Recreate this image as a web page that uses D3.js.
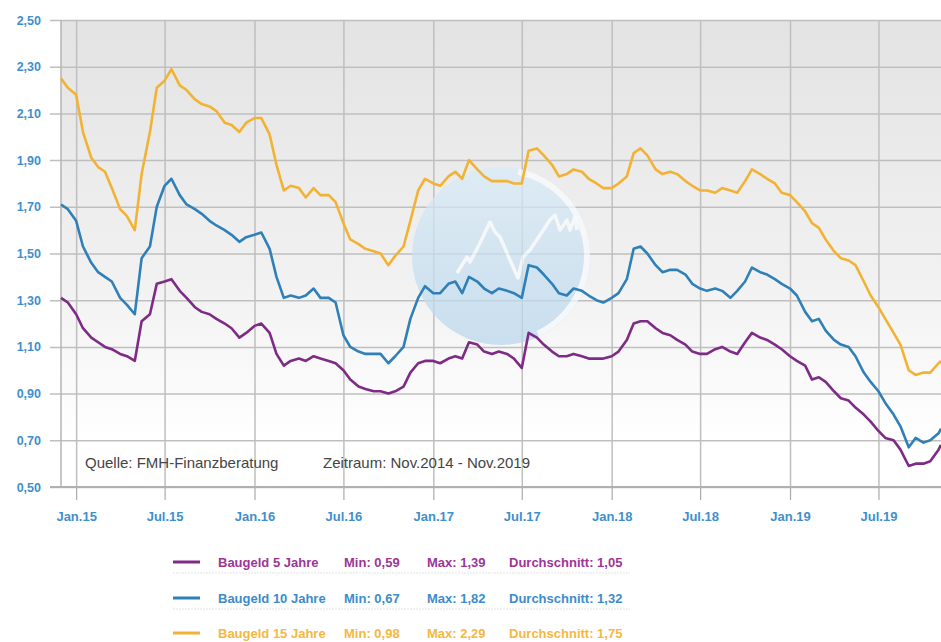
<!DOCTYPE html>
<html>
<head>
<meta charset="utf-8">
<script src="https://cdn.jsdelivr.net/npm/d3@7/dist/d3.min.js"></script>
<style>
  body { margin: 0; background: #fff; }
  svg { display: block; font-family: "Liberation Sans", Arial, sans-serif; }
</style>
</head>
<body>
<div id="chart-area"></div>
<script>
// half-monthly readings, Dec 2014 - Nov 2019
const dates = [
  "2014-12-01","2014-12-15",
  "2015-01-01","2015-01-15","2015-02-01","2015-02-15","2015-03-01","2015-03-15","2015-04-01","2015-04-15","2015-05-01","2015-05-15","2015-06-01","2015-06-15",
  "2015-07-01","2015-07-15","2015-08-01","2015-08-15","2015-09-01","2015-09-15","2015-10-01","2015-10-15","2015-11-01","2015-11-15","2015-12-01","2015-12-15",
  "2016-01-01","2016-01-15","2016-02-01","2016-02-15","2016-03-01","2016-03-15","2016-04-01","2016-04-15","2016-05-01","2016-05-15","2016-06-01","2016-06-15",
  "2016-07-01","2016-07-15","2016-08-01","2016-08-15","2016-09-01","2016-09-15","2016-10-01","2016-10-15","2016-11-01","2016-11-15","2016-12-01","2016-12-15",
  "2017-01-01","2017-01-15","2017-02-01","2017-02-15","2017-03-01","2017-03-15","2017-04-01","2017-04-15","2017-05-01","2017-05-15","2017-06-01","2017-06-15",
  "2017-07-01","2017-07-15","2017-08-01","2017-08-15","2017-09-01","2017-09-15","2017-10-01","2017-10-15","2017-11-01","2017-11-15","2017-12-01","2017-12-15",
  "2018-01-01","2018-01-15","2018-02-01","2018-02-15","2018-03-01","2018-03-15","2018-04-01","2018-04-15","2018-05-01","2018-05-15","2018-06-01","2018-06-15",
  "2018-07-01","2018-07-15","2018-08-01","2018-08-15","2018-09-01","2018-09-15","2018-10-01","2018-10-15","2018-11-01","2018-11-15","2018-12-01","2018-12-15",
  "2019-01-01","2019-01-15","2019-02-01","2019-02-15","2019-03-01","2019-03-15","2019-04-01","2019-04-15","2019-05-01","2019-05-15","2019-06-01","2019-06-15",
  "2019-07-01","2019-07-15","2019-08-01","2019-08-15","2019-09-01","2019-09-15","2019-10-01","2019-10-15","2019-11-01","2019-11-06"
]

const baugeld5 = [
  1.31, 1.29,
  1.24, 1.18, 1.14, 1.12, 1.10, 1.09, 1.07, 1.06, 1.04, 1.21, 1.24, 1.37, 1.38, 1.39, 1.34, 1.31, 1.27, 1.25, 1.24, 1.22, 1.20, 1.18, 1.14, 1.16,
  1.19, 1.20, 1.16, 1.07, 1.02, 1.04, 1.05, 1.04, 1.06, 1.05, 1.04, 1.03, 1.00, 0.96, 0.93, 0.92, 0.91, 0.91, 0.90, 0.91, 0.93, 0.99, 1.03, 1.04,
  1.04, 1.03, 1.05, 1.06, 1.05, 1.12, 1.11, 1.08, 1.07, 1.08, 1.07, 1.05, 1.01, 1.16, 1.14, 1.11, 1.08, 1.06, 1.06, 1.07, 1.06, 1.05, 1.05, 1.05,
  1.06, 1.08, 1.13, 1.20, 1.21, 1.21, 1.18, 1.16, 1.15, 1.13, 1.11, 1.08, 1.07, 1.07, 1.09, 1.10, 1.08, 1.07, 1.12, 1.16, 1.14, 1.13, 1.11, 1.09,
  1.06, 1.04, 1.02, 0.96, 0.97, 0.95, 0.91, 0.88, 0.87, 0.84, 0.81, 0.78, 0.74, 0.71, 0.70, 0.66, 0.59, 0.60, 0.60, 0.61, 0.66, 0.68
]
const baugeld10 = [
  1.71, 1.69,
  1.64, 1.53, 1.46, 1.42, 1.40, 1.38, 1.31, 1.28, 1.24, 1.48, 1.53, 1.70, 1.79, 1.82, 1.75, 1.71, 1.69, 1.67, 1.64, 1.62, 1.60, 1.58, 1.55, 1.57,
  1.58, 1.59, 1.52, 1.40, 1.31, 1.32, 1.31, 1.32, 1.35, 1.31, 1.31, 1.29, 1.15, 1.10, 1.08, 1.07, 1.07, 1.07, 1.03, 1.06, 1.10, 1.22, 1.31, 1.36,
  1.33, 1.33, 1.37, 1.38, 1.33, 1.40, 1.38, 1.35, 1.33, 1.35, 1.34, 1.33, 1.31, 1.45, 1.44, 1.41, 1.37, 1.33, 1.32, 1.35, 1.34, 1.32, 1.30, 1.29,
  1.31, 1.33, 1.39, 1.52, 1.53, 1.50, 1.45, 1.42, 1.43, 1.43, 1.41, 1.37, 1.35, 1.34, 1.35, 1.34, 1.31, 1.34, 1.38, 1.44, 1.42, 1.41, 1.39, 1.37,
  1.35, 1.32, 1.25, 1.21, 1.22, 1.17, 1.13, 1.11, 1.10, 1.06, 0.99, 0.95, 0.91, 0.86, 0.81, 0.76, 0.67, 0.71, 0.69, 0.70, 0.73, 0.75
]
const baugeld15 = [
  2.25, 2.21,
  2.18, 2.02, 1.91, 1.87, 1.85, 1.78, 1.69, 1.66, 1.60, 1.84, 2.02, 2.21, 2.24, 2.29, 2.22, 2.20, 2.16, 2.14, 2.13, 2.11, 2.06, 2.05, 2.02, 2.06,
  2.08, 2.08, 2.01, 1.88, 1.77, 1.79, 1.78, 1.74, 1.78, 1.75, 1.75, 1.72, 1.63, 1.56, 1.54, 1.52, 1.51, 1.50, 1.45, 1.49, 1.53, 1.64, 1.77, 1.82,
  1.80, 1.79, 1.83, 1.85, 1.82, 1.90, 1.86, 1.83, 1.81, 1.81, 1.81, 1.80, 1.80, 1.94, 1.95, 1.92, 1.88, 1.83, 1.84, 1.86, 1.85, 1.82, 1.80, 1.78,
  1.78, 1.80, 1.83, 1.93, 1.95, 1.92, 1.86, 1.84, 1.85, 1.84, 1.81, 1.79, 1.77, 1.77, 1.76, 1.78, 1.77, 1.76, 1.81, 1.86, 1.84, 1.82, 1.80, 1.76,
  1.75, 1.72, 1.68, 1.63, 1.61, 1.56, 1.51, 1.48, 1.47, 1.45, 1.38, 1.32, 1.27, 1.22, 1.16, 1.11, 1.00, 0.98, 0.99, 0.99, 1.03, 1.04
]

const seriesNames = ["Baugeld 5 Jahre", "Baugeld 10 Jahre", "Baugeld 15 Jahre"]
const statMin = ["0,59", "0,67", "0,98"]
const statMax = ["1,39", "1,82", "2,29"]
const statAvg = ["1,05", "1,32", "1,75"]

const yTicks = [0.5, 0.7, 0.9, 1.1, 1.3, 1.5, 1.7, 1.9, 2.1, 2.3, 2.5]
const yTickLabels = ["0,50", "0,70", "0,90", "1,10", "1,30", "1,50", "1,70", "1,90", "2,10", "2,30", "2,50"]
const xTicks = ["2015-01-01", "2015-07-01", "2016-01-01", "2016-07-01", "2017-01-01",
  "2017-07-01", "2018-01-01", "2018-07-01", "2019-01-01", "2019-07-01"]
const xTickLabels = ["Jan.15", "Jul.15", "Jan.16", "Jul.16", "Jan.17", "Jul.17", "Jan.18", "Jul.18", "Jan.19", "Jul.19"]

const LINE_COLORS = ["#7e2b85", "#2f80b8", "#f2b233"]
const TEXT_COLORS = ["#9c3597", "#3c8ccb", "#f5b840"]
const LABEL_BLUE = "#3f8fcd"

const WIDTH = 941
const HEIGHT = 642
const PLOT = { LEFT: 61, RIGHT: 941, TOP: 20, BOTTOM: 487 }

const parseDate = d3.timeParse("%Y-%m-%d")

const svg = d3.select("#chart-area").append("svg")
  .attr("width", WIDTH)
  .attr("height", HEIGHT)

// background gradient of plot area
const defs = svg.append("defs")
const bg = defs.append("linearGradient")
  .attr("id", "plotBg")
  .attr("x1", 0).attr("y1", 0).attr("x2", 0).attr("y2", 1)
bg.append("stop").attr("offset", "0%").attr("stop-color", "#e3e3e3")
bg.append("stop").attr("offset", "55%").attr("stop-color", "#f1f1f1")
bg.append("stop").attr("offset", "90%").attr("stop-color", "#ffffff")

const wm = defs.append("linearGradient")
  .attr("id", "wmFill")
  .attr("x1", 0).attr("y1", 0).attr("x2", 0).attr("y2", 1)
wm.append("stop").attr("offset", "0%").attr("stop-color", "#d9ecf8")
wm.append("stop").attr("offset", "100%").attr("stop-color", "#b9d6ec")

svg.append("rect")
  .attr("x", PLOT.LEFT)
  .attr("y", PLOT.TOP)
  .attr("width", PLOT.RIGHT - PLOT.LEFT)
  .attr("height", PLOT.BOTTOM - PLOT.TOP)
  .attr("fill", "url(#plotBg)")

// scales
const x = d3.scaleTime()
  .domain([parseDate("2014-12-01"), parseDate("2019-11-06")])
  .range([PLOT.LEFT, PLOT.RIGHT])
const y = d3.scaleLinear()
  .domain([0.5, 2.5])
  .range([PLOT.BOTTOM, PLOT.TOP])

// horizontal grid + y labels
const yAxisCall = d3.axisLeft(y)
  .tickValues(yTicks)
  .tickSize(-(PLOT.RIGHT - 50))
  .tickPadding(9)
  .tickFormat((d, i) => yTickLabels[i])
const yAxis = svg.append("g")
  .attr("transform", "translate(50, 0)")
  .call(yAxisCall)
yAxis.select(".domain").remove()
yAxis.selectAll("line")
  .attr("stroke", "#bfbfbf")
  .attr("stroke-width", 1.5)
yAxis.selectAll("text")
  .attr("fill", LABEL_BLUE)
  .attr("font-size", "12.5px")
  .attr("font-weight", "bold")
  .attr("font-family", "Liberation Sans, Arial, sans-serif")

// vertical grid
const xGridCall = d3.axisBottom(x)
  .tickValues(xTicks.map(parseDate))
  .tickSize(-(PLOT.BOTTOM - PLOT.TOP))
  .tickFormat("")
const xGrid = svg.append("g")
  .attr("transform", `translate(0, ${PLOT.BOTTOM})`)
  .call(xGridCall)
xGrid.select(".domain").remove()
xGrid.selectAll("line")
  .attr("stroke", "#bfbfbf")
  .attr("stroke-width", 1.5)

// x axis ticks + labels
const xAxisCall = d3.axisBottom(x)
  .tickValues(xTicks.map(parseDate))
  .tickSize(13)
  .tickPadding(12)
  .tickFormat((d, i) => xTickLabels[i])
const xAxis = svg.append("g")
  .attr("transform", `translate(0, ${PLOT.BOTTOM})`)
  .call(xAxisCall)
xAxis.select(".domain").remove()
xAxis.selectAll("line")
  .attr("stroke", "#aaaaaa")
  .attr("stroke-width", 1.2)
xAxis.selectAll("text")
  .attr("fill", LABEL_BLUE)
  .attr("font-size", "13px")
  .attr("font-weight", "bold")
  .attr("font-family", "Liberation Sans, Arial, sans-serif")

// plot frame (left + bottom)
svg.append("line")
  .attr("x1", PLOT.LEFT).attr("x2", PLOT.LEFT)
  .attr("y1", PLOT.TOP).attr("y2", PLOT.BOTTOM + 1)
  .attr("stroke", "#b5b5b5")
  .attr("stroke-width", 1.5)
svg.append("line")
  .attr("x1", 50).attr("x2", PLOT.RIGHT)
  .attr("y1", PLOT.BOTTOM).attr("y2", PLOT.BOTTOM)
  .attr("stroke", "#b0b0b0")
  .attr("stroke-width", 2)

// watermark logo
const logo = svg.append("g")
  .attr("transform", "translate(501, 256)")
  .attr("opacity", 0.72)
logo.append("circle")
  .attr("r", 89)
  .attr("fill", "url(#wmFill)")
logo.append("path")
  .attr("d", d3.arc()({ innerRadius: 83, outerRadius: 89, startAngle: 0.2, endAngle: 2.7 }))
  .attr("fill", "#ffffff")
  .attr("opacity", 0.85)
logo.append("path")
  .attr("d", "M-44,17 L-34,1 L-31,6 L-21,-13 L-11,-34 L-6,-24 L-1,-19 L9,4 L17,22 L22,1 L29,-6 L39,-21 L49,-36 L54,-41 L59,-26 L66,-36 L69,-26 L74,-39 L76,-26")
  .attr("fill", "none")
  .attr("stroke", "#ffffff")
  .attr("stroke-opacity", 0.85)
  .attr("stroke-width", 3.5)
  .attr("stroke-linejoin", "round")

// source texts
svg.append("text")
  .attr("x", 85)
  .attr("y", 468)
  .attr("font-size", "15px")
  .attr("fill", "#444")
  .text("Quelle: FMH-Finanzberatung")
svg.append("text")
  .attr("x", 323)
  .attr("y", 468)
  .attr("font-size", "15px")
  .attr("fill", "#444")
  .text("Zeitraum: Nov.2014 - Nov.2019")

// lines
const allSeries = [baugeld5, baugeld10, baugeld15]
const line = d3.line()
  .x((d, i) => x(parseDate(dates[i])))
  .y(d => y(d))

const lineG = svg.append("g")
allSeries.forEach((values, k) => {
  lineG.append("path")
    .attr("fill", "none")
    .attr("stroke", LINE_COLORS[k])
    .attr("stroke-width", 2.6)
    .attr("stroke-linejoin", "round")
    .attr("d", line(values))
})

// legend
const rowY = [562, 598, 633]
const legend = svg.append("g")
seriesNames.forEach((name, k) => {
  const row = legend.append("g").attr("transform", `translate(0, ${rowY[k]})`)
  row.append("line")
    .attr("x1", 173).attr("x2", 200)
    .attr("stroke", LINE_COLORS[k])
    .attr("stroke-width", 3)
  const cols = [
    [218, name],
    [344, "Min: " + statMin[k]],
    [427, "Max: " + statMax[k]],
    [509, "Durchschnitt: " + statAvg[k]]
  ]
  cols.forEach(c => {
    row.append("text")
      .attr("x", c[0])
      .attr("y", 4.5)
      .attr("font-size", "13px")
      .attr("font-weight", "bold")
      .attr("fill", TEXT_COLORS[k])
      .text(c[1])
  })
  if (k < 2) {
    legend.append("line")
      .attr("x1", 173).attr("x2", 630)
      .attr("y1", rowY[k] + 11).attr("y2", rowY[k] + 11)
      .attr("stroke", "#e2e2e2")
      .attr("stroke-width", 1)
      .attr("stroke-dasharray", "2,1")
  }
})
</script>
</body>
</html>
